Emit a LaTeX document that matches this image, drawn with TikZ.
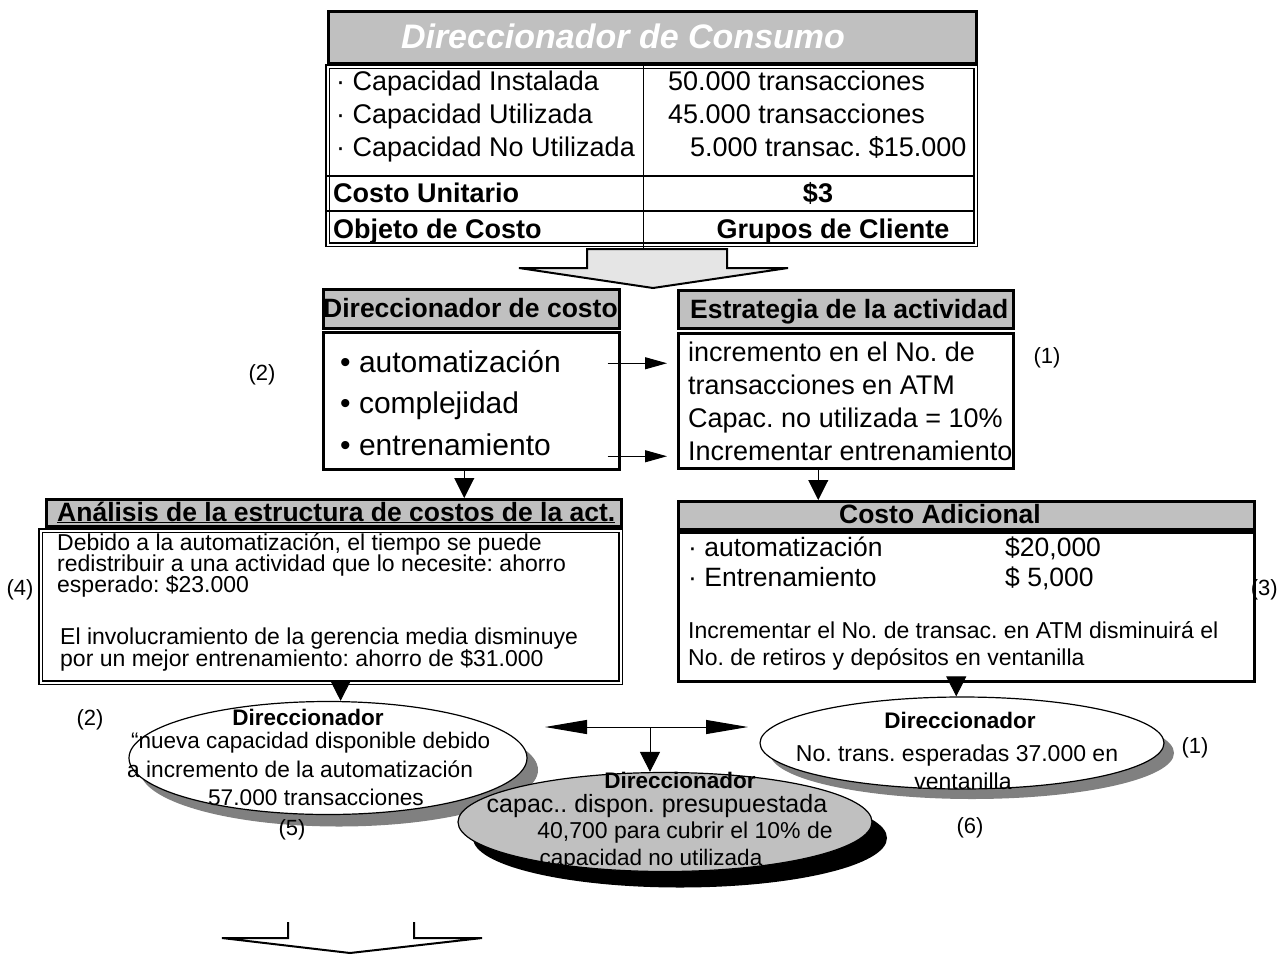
\documentclass[tikz,border=0pt]{standalone}
\usepackage{fontspec}
\setmainfont{Liberation Sans}
\usetikzlibrary{arrows.meta,shapes.geometric}
\definecolor{hdrgray}{RGB}{192,192,192}
\definecolor{shdgray}{RGB}{128,128,128}
\newcommand{\pxf}[1]{\fontsize{#1}{#1}\selectfont}
\frenchspacing

\begin{document}
\begin{tikzpicture}[x=1pt,y=-1pt,
  hdr/.style={draw=black, line width=2.5pt, fill=hdrgray, anchor=north west, inner sep=0pt},
  bodybox/.style={draw=black, line width=2.5pt, fill=white, anchor=north west, inner sep=0pt},
  dblbox/.style={draw=black, double=white, double distance=2pt, line width=1.2pt, anchor=north west, inner sep=0pt},
  txt/.style={inner sep=0pt, anchor=base west},
  ctxt/.style={inner sep=0pt, anchor=base},
  lbl/.style={inner sep=0pt, font=\pxf{22}},
  oval/.style={ellipse, inner sep=0pt, line width=1.2pt},
  down/.style={line width=1pt, -{Triangle[length=20pt,width=20pt]}},
  side/.style={line width=1pt, -{Triangle[length=22pt,width=12pt]}},
  twoway/.style={line width=1pt, {Triangle[length=42pt,width=14pt]}-{Triangle[length=42pt,width=14pt]}},
]
\useasboundingbox (0,0) rectangle (1278,954);

% tabla superior
\node[hdr, minimum width=648pt, minimum height=52pt] (conHd) at (327,10) {};
\node[ctxt, font=\pxf{34}\bfseries\itshape, text=white] (conTitle) at (623,48) {Direccionador de Consumo};
\node[dblbox, minimum width=648pt, minimum height=178pt] (conBody) at (327,66) {};
\draw[line width=1.5pt] (327,176) -- (975,176);
\draw[line width=1.5pt] (327,211) -- (975,211);
\draw[line width=0.8pt] (643,62) -- (643,248);
\node[txt, font=\pxf{27}] (capA) at (336,90) {· Capacidad Instalada};
\node[txt, font=\pxf{27}] (capB) at (336,123) {· Capacidad Utilizada};
\node[txt, font=\pxf{27}] (capC) at (336,156) {· Capacidad No Utilizada};
\node[txt, font=\pxf{27}] (capAv) at (668,90) {50.000 transacciones};
\node[txt, font=\pxf{27}] (capBv) at (668,123) {45.000 transacciones};
\node[txt, font=\pxf{27}] (capCv) at (690,156) {5.000 transac. \$15.000};
\node[txt, font=\pxf{27}\bfseries] (unit) at (333,202) {Costo Unitario};
\node[ctxt, font=\pxf{27}\bfseries] (unitv) at (818,202) {\$3};
\node[txt, font=\pxf{27}\bfseries] (obj) at (333,238) {Objeto de Costo};
\node[ctxt, font=\pxf{27}\bfseries] (objv) at (833,238) {Grupos de Cliente};

% flecha gris
\draw[line width=2pt, fill=gray!20] (587,249) -- (727,249) -- (727,268) -- (788,268)
  -- (653,288) -- (519,268) -- (587,268) -- cycle;

% direccionador de costo
\node[hdr, minimum width=296pt, minimum height=39pt] (costHd) at (322,288) {};
\node[txt, font=\pxf{26.5}\bfseries] (costTitle) at (323,317) {Direccionador de costo};
\node[bodybox, minimum width=296pt, minimum height=137pt] (costBody) at (322,331) {};
\node[txt, font=\pxf{30}] (drvA) at (340,372) {• automatización};
\node[txt, font=\pxf{30}] (drvB) at (340,413) {• complejidad};
\node[txt, font=\pxf{30}] (drvC) at (340,455) {• entrenamiento};

% estrategia de la actividad
\node[hdr, minimum width=335pt, minimum height=38pt] (stratHd) at (677,289) {};
\node[txt, font=\pxf{26.5}\bfseries] (stratTitle) at (690,318) {Estrategia de la actividad};
\node[bodybox, minimum width=335pt, minimum height=135pt] (stratBody) at (677,332) {};
\node[txt, font=\pxf{27}] (strA) at (688,361) {incremento en el No. de};
\node[txt, font=\pxf{27}] (strB) at (688,394) {transacciones en ATM};
\node[txt, font=\pxf{27}] (strC) at (688,427) {Capac. no utilizada = 10\%};
\node[txt, font=\pxf{27}] (strD) at (688,460) {Incrementar entrenamiento};

\draw[side] ([xshift=-13pt,yshift=37.5pt]costBody.east) -- ([xshift=-10pt,yshift=37.5pt]stratBody.west);
\draw[side] ([xshift=-13pt,yshift=-55.5pt]costBody.east) -- ([xshift=-10pt,yshift=-55.5pt]stratBody.west);

% analisis de la estructura
\node[hdr, minimum width=575pt, minimum height=27pt] (anHd) at (45,498) {};
\node[txt, font=\pxf{26.5}\bfseries] (anTitle) at (57,521) {\underline{Análisis de la estructura de costos de la act.}};
\node[dblbox, fill=white, minimum width=580pt, minimum height=152pt] (anBody) at (40,530) {};
\node[txt, font=\pxf{23}] (anA) at (57,550) {Debido a la automatización, el tiempo se puede};
\node[txt, font=\pxf{23}] (anB) at (57,571) {redistribuir a una actividad que lo necesite: ahorro};
\node[txt, font=\pxf{23}] (anC) at (57,592) {esperado: \$23.000};
\node[txt, font=\pxf{23}] (anD) at (60,644) {El involucramiento de la gerencia media disminuye};
\node[txt, font=\pxf{23}] (anE) at (60,666) {por un mejor entrenamiento: ahorro de \$31.000};

% costo adicional
\node[hdr, minimum width=576pt, minimum height=28pt] (addHd) at (677,500) {};
\node[ctxt, font=\pxf{26.5}\bfseries] (addTitle) at (940,523) {Costo Adicional};
\node[bodybox, minimum width=576pt, minimum height=149pt] (addBody) at (677,531) {};
\node[txt, font=\pxf{26.5}] (addA) at (688,556) {· automatización};
\node[txt, font=\pxf{26.5}] (addAv) at (1005,556) {\$20,000};
\node[txt, font=\pxf{26.5}] (addB) at (688,586) {· Entrenamiento};
\node[txt, font=\pxf{26.5}] (addBv) at (1005,586) {\$ 5,000};
\node[txt, font=\pxf{23}] (addC) at (688,638) {Incrementar el No. de transac. en ATM disminuirá el};
\node[txt, font=\pxf{23}] (addD) at (688,665) {No. de retiros y depósitos en ventanilla};

\draw[down] ([xshift=-7pt]costBody.south) -- ([xshift=-7pt]costBody.south |- anHd.north);
\draw[down] ([xshift=-27.5pt]stratBody.south) -- ([xshift=-27.5pt]stratBody.south |- addHd.north);

% direccionadores (elipses)
\node[oval, fill=shdgray, minimum width=398pt, minimum height=113pt] (leftSh) at (339,770) {};
\node[oval, draw, fill=white, minimum width=398pt, minimum height=113pt] (leftEl) at (328,758) {};
\node[oval, fill=black, minimum width=414pt, minimum height=99pt] (midSh) at (680,838) {};
\node[oval, draw, fill=hdrgray, minimum width=414pt, minimum height=99pt] (midEl) at (665,822) {};
\node[oval, fill=shdgray, minimum width=404pt, minimum height=92pt] (rightSh) at (972,753) {};
\node[oval, draw, fill=white, minimum width=404pt, minimum height=92pt] (rightEl) at (962,743) {};

\node[ctxt, font=\pxf{22.5}\bfseries] (leftT) at (308,725) {Direccionador};
\node[txt, font=\pxf{22.5}] (leftA) at (131,748) {“nueva capacidad disponible debido};
\node[txt, font=\pxf{22.7}] (leftB) at (127,777) {a incremento de la automatización};
\node[ctxt, font=\pxf{22.7}] (leftC) at (316,805) {57.000 transacciones};

\node[ctxt, font=\pxf{22.5}\bfseries] (midT) at (680,788) {Direccionador};
\node[ctxt, font=\pxf{25}] (midA) at (657,812) {capac.. dispon. presupuestada};
\node[ctxt, font=\pxf{23}] (midB) at (685,838) {40,700 para cubrir el 10\% de};
\node[ctxt, font=\pxf{22.5}] (midC) at (651,865) {capacidad no utilizada};

\node[ctxt, font=\pxf{22.5}\bfseries] (rightT) at (960,728) {Direccionador};
\node[ctxt, font=\pxf{23}] (rightA) at (957,761) {No. trans. esperadas 37.000 en};
\node[ctxt, font=\pxf{23}] (rightB) at (963,789) {ventanilla};

\draw[down] ([xshift=10pt]anBody.south) -- ([xshift=10pt]anBody.south |- leftEl.north);
\draw[down] ([xshift=-10pt]addBody.south) -- ([xshift=-10pt]addBody.south |- rightEl.north);

\coordinate (hL) at (545,727);
\coordinate (hR) at (748,727);
\coordinate (hM) at (650,727);
\draw[twoway] (hL) -- (hR);
\draw[down] (hM) -- (hM |- midEl.north);

% etiquetas
\node[lbl] (n2a) at (262,375) {(2)};
\node[lbl] (n1a) at (1047,358) {(1)};
\node[lbl] (n4) at (20,590) {(4)};
\node[lbl, anchor=east] (n3) at (1278,590) {(3)};
\node[lbl] (n2b) at (90,720) {(2)};
\node[lbl] (n5) at (292,830) {(5)};
\node[lbl] (n1b) at (1195,748) {(1)};
\node[lbl] (n6) at (970,828) {(6)};

% flecha inferior
\draw[line width=2pt] (288,922) -- (288,938) -- (222,938) -- (350,953) -- (482,938) -- (414,938) -- (414,922);
\end{tikzpicture}
\end{document}
